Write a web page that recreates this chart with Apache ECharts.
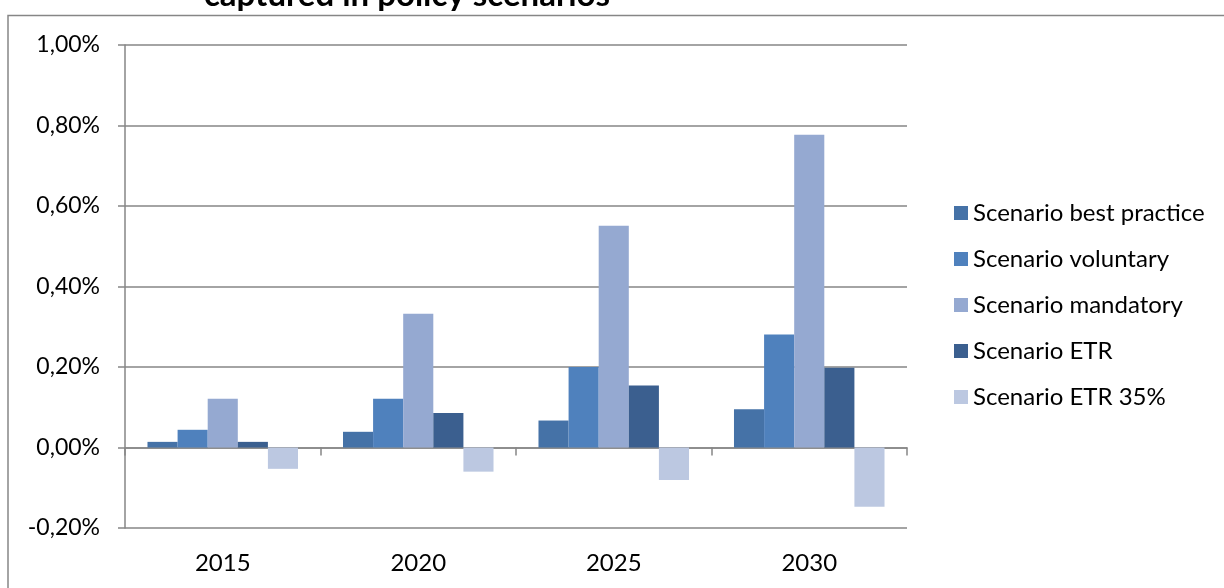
<!DOCTYPE html>
<html>
<head>
<meta charset="utf-8">
<script src="https://cdn.jsdelivr.net/npm/echarts@6/dist/echarts.min.js"></script>
<style>html,body{margin:0;padding:0;background:#fff}#c{width:1224px;height:588px}</style>
</head>
<body>
<div id="c"></div>
<script>
var categories = ['2015', '2020', '2025', '2030'];
var seriesNames = ['Scenario best practice', 'Scenario voluntary', 'Scenario mandatory', 'Scenario ETR', 'Scenario ETR 35%'];
var bestPractice = [0.014, 0.039, 0.067, 0.095];
var voluntary = [0.044, 0.121, 0.200, 0.281];
var mandatory = [0.121, 0.332, 0.551, 0.777];
var etr = [0.014, 0.086, 0.154, 0.198];
var etr35 = [-0.053, -0.060, -0.081, -0.147];
var colors = ['#4572A7', '#4F81BD', '#95A9D1', '#3B5F8F', '#BCC8E1'];
var titleText = 'captured in policy scenarios';

var FONT = 'Lato';
var values = [bestPractice, voluntary, mandatory, etr, etr35];
var chart = echarts.init(document.getElementById('c'), null, {renderer: 'canvas'});
var gray = '#868686';
var series = values.map(function (v, i) {
  return {
    name: seriesNames[i], type: 'bar', data: v, xAxisIndex: 0,
    barGap: '0%', barCategoryGap: '23%',
    itemStyle: {color: colors[i]},
    emphasis: {disabled: true}
  };
});
chart.setOption({
  animation: false,
  color: colors,
  graphic: [
    {type: 'rect', shape: {x: 8, y: 15.5, width: 1300, height: 700}, style: {fill: 'none', stroke: gray, lineWidth: 1.5}, silent: true},
    {type: 'text', x: 407, y: 12, style: {text: titleText, font: 'bold 33px ' + FONT, fill: '#000', textAlign: 'center', textVerticalAlign: 'bottom'}, silent: true}
  ],
  grid: {left: 125, right: 317, top: 45, bottom: 60, containLabel: false},
  legend: {
    orient: 'vertical', left: 949, top: 196, itemWidth: 14, itemHeight: 14, itemGap: 22,
    icon: 'rect', selectedMode: false,
    textStyle: {fontFamily: FONT, fontSize: 24, color: '#000', padding: [0, 0, 0, 0]},
    data: seriesNames
  },
  xAxis: [
    {type: 'category', data: categories, position: 'bottom',
     axisLine: {onZero: true, lineStyle: {color: gray, width: 1.5}},
     axisTick: {show: true, length: 8, lineStyle: {color: gray, width: 1.5}},
     axisLabel: {show: false}, splitLine: {show: false}},
    {type: 'category', data: categories, position: 'bottom', gridIndex: 0,
     axisLine: {show: false, onZero: false}, axisTick: {show: false},
     axisLabel: {show: true, margin: 23, fontFamily: FONT, fontSize: 24, color: '#000'}}
  ],
  yAxis: {
    type: 'value', min: -0.2, max: 1.0, interval: 0.2,
    axisLine: {show: true, lineStyle: {color: gray, width: 1.5}},
    axisTick: {show: true, inside: false, length: 7, lineStyle: {color: gray, width: 1.5}},
    splitLine: {show: true, lineStyle: {color: gray, width: 1.5}},
    axisLabel: {margin: 25, fontFamily: FONT, fontSize: 23, color: '#000',
      formatter: function (v) { return v.toFixed(2).replace('.', ',') + '%'; }}
  },
  series: series
});
</script>
</body>
</html>
